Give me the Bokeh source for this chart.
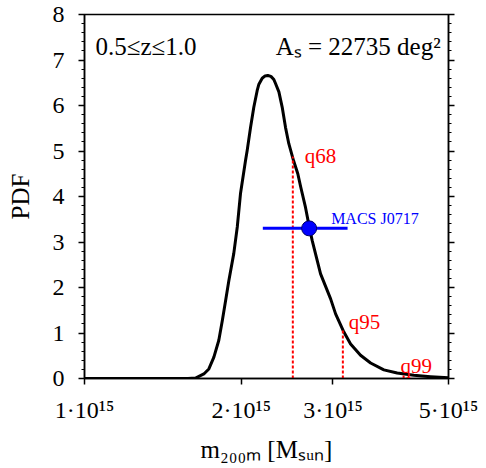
import numpy as np
from bokeh.plotting import figure
from bokeh.models import (Range1d, FixedTicker, SingleIntervalTicker, LinearAxis,
                          CustomJSTickFormatter, Label)
from bokeh.embed import file_html
from bokeh.resources import INLINE

# ---- data (mass in units of 1e15 Msun) ----
mass = [1.00, 1.30, 1.50, 1.58, 1.634, 1.695, 1.733, 1.772, 1.811, 1.839,
        1.866, 1.893, 1.935, 1.965, 1.993, 2.038, 2.053, 2.084, 2.114, 2.146,
        2.161, 2.194, 2.222, 2.249, 2.280, 2.310, 2.324, 2.362, 2.397, 2.432,
        2.468, 2.520, 2.568, 2.600, 2.657, 2.705, 2.737, 2.840, 2.969, 3.035,
        3.139, 3.243, 3.389, 3.543, 3.757, 3.985, 4.290, 4.618, 5.00]
pdf = [0.0, 0.0, 0.0, 0.0, 0.01, 0.10, 0.21, 0.47, 0.84, 1.27,
       1.71, 2.15, 2.75, 3.33, 4.06, 4.79, 5.01, 5.52, 5.96, 6.33,
       6.46, 6.60, 6.65, 6.66, 6.64, 6.57, 6.50, 6.30, 5.96, 5.52,
       5.16, 4.79, 4.50, 4.22, 3.76, 3.30, 3.03, 2.30, 1.75, 1.42,
       1.05, 0.76, 0.51, 0.34, 0.19, 0.12, 0.07, 0.04, 0.015]

q_names = ["q68", "q95", "q99"]
q_mass = [2.512, 3.134, 4.10]
q_pdf = [4.88, 1.06, 0.10]

cluster_name = "MACS J0717"
cluster_mass = 2.70
cluster_err = 0.50
cluster_pdf = 3.30

x_ticks = [1, 2, 3, 5]
x_tick_labels = ["1·10¹⁵", "2·10¹⁵", "3·10¹⁵", "5·10¹⁵"]

UNIT = 1e15
FONT = "Liberation Serif"

p = figure(width=486, height=468, x_axis_type="log",
           x_range=Range1d(1 * UNIT, 5 * UNIT), y_range=Range1d(0, 8),
           output_backend="svg", toolbar_location=None,
           min_border_left=84, min_border_right=38,
           min_border_top=14, min_border_bottom=90)
p.grid.visible = False
p.outline_line_color = "black"
p.outline_line_width = 1.5
p.background_fill_color = "white"
p.border_fill_color = "white"

# x axis
xa = p.xaxis[0]
xa.ticker = FixedTicker(ticks=[t * UNIT for t in x_ticks], minor_ticks=[])
xa.formatter = CustomJSTickFormatter(
    args=dict(tk=[t * UNIT for t in x_ticks], labs=x_tick_labels),
    code="""
    for (let i = 0; i < tk.length; i++) {
        if (Math.abs(tk[i] - tick) < 1e12) return labs[i];
    }
    return '';
    """)
xa.axis_label = "m₂₀₀ₘ [Mₛᵤₙ]"

# y axis
ya = p.yaxis[0]
ya.ticker = SingleIntervalTicker(interval=1, num_minor_ticks=5)
ya.axis_label = "PDF"

for ax in (xa, ya):
    ax.axis_line_width = 1.5
    ax.axis_line_color = "black"
    ax.major_tick_line_width = 1.5
    ax.minor_tick_line_width = 1.2
    ax.major_tick_line_color = "black"
    ax.minor_tick_line_color = "black"
    ax.major_tick_in = 0
    ax.major_tick_out = 6
    ax.minor_tick_in = 0
    ax.minor_tick_out = 3
    ax.major_label_text_font = FONT
    ax.major_label_text_font_size = "24px"
    ax.major_label_text_color = "black"
    ax.axis_label_text_font = FONT
    ax.axis_label_text_font_size = "25px"
    ax.axis_label_text_font_style = "normal"
    ax.axis_label_text_color = "black"

ya.major_label_standoff = 14
ya.axis_label_standoff = 16
xa.major_label_standoff = 12
xa.axis_label_standoff = 10

# right axis (ticks only)
ra = LinearAxis(ticker=SingleIntervalTicker(interval=1, num_minor_ticks=5),
                formatter=CustomJSTickFormatter(code="return '';"))
ra.axis_line_width = 1.5
ra.major_tick_line_width = 1.5
ra.minor_tick_line_width = 1.2
ra.major_tick_in = 0
ra.major_tick_out = 6
ra.minor_tick_in = 0
ra.minor_tick_out = 3
ra.major_label_standoff = 0
p.add_layout(ra, "right")

# curve
p.line([m * UNIT for m in mass], pdf, line_width=3, line_color="black",
       line_join="round")

# quantile lines
qx = [m * UNIT for m in q_mass]
p.segment(x0=qx, y0=[0] * len(qx), x1=qx, y1=q_pdf,
          line_color="red", line_width=2, line_dash="3 2")
q_dx = [12, 6, -3]
q_dy = [0, 8, 8]
for name, x, y, dx, dy in zip(q_names, qx, q_pdf, q_dx, q_dy):
    p.add_layout(Label(x=x, y=y, text=name, x_offset=dx, y_offset=dy,
                       text_color="red", text_font=FONT, text_font_size="21px",
                       text_baseline="alphabetic"))

# cluster
p.segment(x0=[(cluster_mass - cluster_err) * UNIT], x1=[(cluster_mass + cluster_err) * UNIT],
          y0=[cluster_pdf], y1=[cluster_pdf], line_color="blue", line_width=3)
p.scatter([cluster_mass * UNIT], [cluster_pdf], size=15, fill_color="blue",
          line_color="#000066", line_width=1)
p.add_layout(Label(x=cluster_mass * UNIT, y=cluster_pdf, text=cluster_name,
                   x_offset=22, y_offset=10, text_color="blue", text_font=FONT,
                   text_font_size="16px", text_baseline="alphabetic"))

# header texts
p.add_layout(Label(x=1.05 * UNIT, y=7.30, text="0.5≤z≤1.0", text_font=FONT,
                   text_color="black", text_font_size="25px",
                   text_baseline="alphabetic"))
p.add_layout(Label(x=4.83 * UNIT, y=7.30, text="Aₛ = 22735 deg²", text_font=FONT,
                   text_color="black", text_font_size="25px",
                   text_baseline="alphabetic", text_align="right"))

open("out.html", "w").write(file_html(p, INLINE))
